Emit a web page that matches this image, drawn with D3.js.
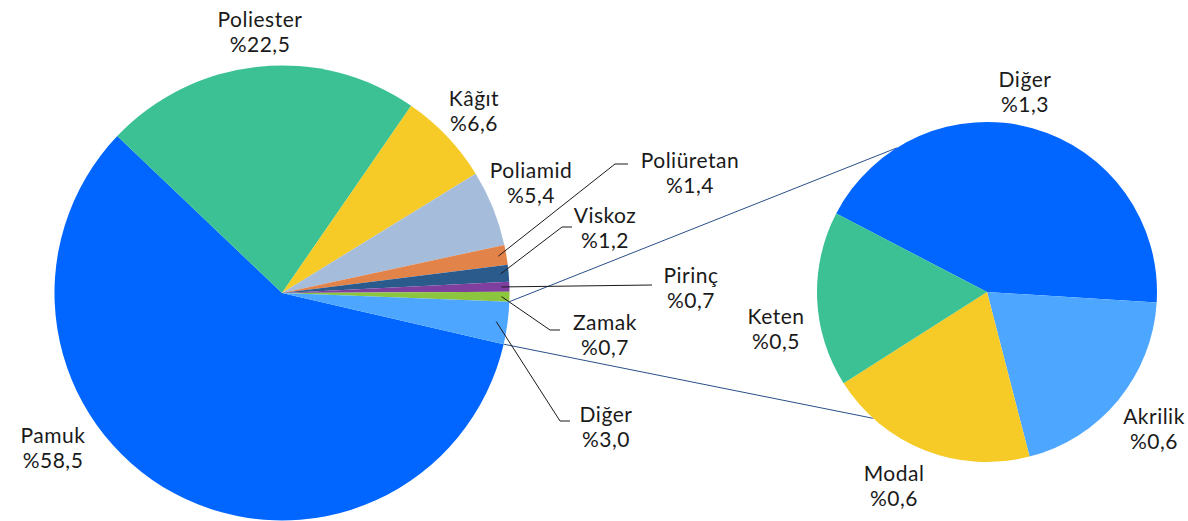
<!DOCTYPE html>
<html>
<head>
<meta charset="utf-8">
<script src="https://cdn.jsdelivr.net/npm/d3@7"></script>
<style>
  html, body { margin: 0; padding: 0; background: #ffffff; }
  svg { display: block; }
  text { font-family: Lato, "Noto Sans", sans-serif; font-size: 21px; letter-spacing: 0.5px; fill: #1a1a1a; }
</style>
</head>
<body>
<svg id="chart" width="1188" height="521"></svg>
<script>
// Main pie: fibre / material shares (%)
const mainCategories = ["Pamuk", "Poliester", "Kâğıt", "Poliamid", "Poliüretan", "Viskoz", "Pirinç", "Zamak", "Diğer"];
const mainValues     = [58.5, 22.5, 6.6, 5.4, 1.4, 1.2, 0.7, 0.7, 3.0];
const mainLabels     = ["%58,5", "%22,5", "%6,6", "%5,4", "%1,4", "%1,2", "%0,7", "%0,7", "%3,0"];

// Breakdown of "Diğer"
const subCategories = ["Diğer", "Akrilik", "Modal", "Keten"];
const subValues     = [1.3, 0.6, 0.6, 0.5];
const subLabels     = ["%1,3", "%0,6", "%0,6", "%0,5"];

const mainColors = ["#0066ff", "#3bc193", "#f6cb28", "#a5bdda", "#e2834a", "#2a5b8c", "#7e3f9e", "#8cc63f", "#4da6ff"];
const subColors  = ["#0066ff", "#4da6ff", "#f6cb28", "#3bc193"];

const svg = d3.select("#chart");
const deg = Math.PI / 180;

// geometry
const main = { cx: 282, cy: 293, r: 227.5, start: 103 };
const sub  = { cx: 987, cy: 292, r: 170,   start: 297.5 };

const mainPie = d3.pie().sort(null).value(d => d.value)
  .startAngle(main.start * deg).endAngle((main.start + 360) * deg);
const subPie = d3.pie().sort(null).value(d => d.value)
  .startAngle(sub.start * deg).endAngle((sub.start + 360) * deg);

const mainData = mainCategories.map((c, i) => ({ name: c, value: mainValues[i], label: mainLabels[i], color: mainColors[i] }));
const subData  = subCategories.map((c, i) => ({ name: c, value: subValues[i], label: subLabels[i], color: subColors[i] }));

const mainArcs = mainPie(mainData);
const subArcs  = subPie(subData);

const mainArc = d3.arc().innerRadius(0).outerRadius(main.r);
const subArc  = d3.arc().innerRadius(0).outerRadius(sub.r);

// point on a circle for a d3 angle (clockwise from 12 o'clock)
const polar = (c, a, r) => [c.cx + r * Math.sin(a), c.cy - r * Math.cos(a)];

// connector lines between the "Diğer" slice and the secondary pie
const other = mainArcs[mainArcs.length - 1];
const connectors = [
  [polar(main, other.startAngle, main.r), polar(sub, -32 * deg, sub.r)],
  [polar(main, other.endAngle, main.r),   polar(sub, 222 * deg, sub.r)]
];
svg.append("g").selectAll("line").data(connectors).join("line")
  .attr("x1", d => d[0][0]).attr("y1", d => d[0][1])
  .attr("x2", d => d[1][0]).attr("y2", d => d[1][1])
  .attr("stroke", "#2b4f8a").attr("stroke-width", 1);

svg.append("g").attr("transform", `translate(${main.cx},${main.cy})`)
  .selectAll("path").data(mainArcs).join("path")
  .attr("d", mainArc).attr("fill", d => d.data.color);

svg.append("g").attr("transform", `translate(${sub.cx},${sub.cy})`)
  .selectAll("path").data(subArcs).join("path")
  .attr("d", subArc).attr("fill", d => d.data.color);

// label placement: text centre x, first baseline y, optional leader elbow [x, y, endX]
const mainLabelPos = {
  "Pamuk":      { x: 53,  y: 443 },
  "Poliester":  { x: 260, y: 27 },
  "Kâğıt":      { x: 474, y: 106 },
  "Poliamid":   { x: 531, y: 178 },
  "Poliüretan": { x: 690, y: 168, leader: [615, 164, 628] },
  "Viskoz":     { x: 605, y: 223, leader: [562, 227, 572] },
  "Pirinç":     { x: 691, y: 283, leader: [652, 285, 652] },
  "Zamak":      { x: 605, y: 330, leader: [550, 330, 560] },
  "Diğer":      { x: 606, y: 422, leader: [560, 421, 570] }
};
const subLabelPos = {
  "Diğer":   { x: 1025, y: 87 },
  "Akrilik": { x: 1154, y: 424 },
  "Modal":   { x: 894,  y: 481 },
  "Keten":   { x: 776,  y: 324 }
};

const lineGap = 24.5;

function drawLabels(arcs, pos) {
  const g = svg.append("g");
  arcs.forEach(a => {
    const p = pos[a.data.name];
    const t = g.append("text").attr("text-anchor", "middle");
    t.append("tspan").attr("x", p.x).attr("y", p.y).text(a.data.name);
    t.append("tspan").attr("x", p.x).attr("y", p.y + lineGap).text(a.data.label);
  });
  return g;
}
drawLabels(mainArcs, mainLabelPos);
drawLabels(subArcs, subLabelPos);

// leader lines for the thin slices
const leaders = mainArcs.filter(a => mainLabelPos[a.data.name].leader).map(a => {
  const mid = (a.startAngle + a.endAngle) / 2;
  const inner = a.data.name === "Diğer" ? 0.95 : 0.965;
  const start = polar(main, mid, main.r * inner);
  const [ex, ey, endX] = mainLabelPos[a.data.name].leader;
  return [start, [ex, ey], [endX, ey]];
});
svg.append("g").selectAll("path").data(leaders).join("path")
  .attr("d", d => d3.line()(d))
  .attr("fill", "none").attr("stroke", "#1a1a1a").attr("stroke-width", 1);
</script>
</body>
</html>
